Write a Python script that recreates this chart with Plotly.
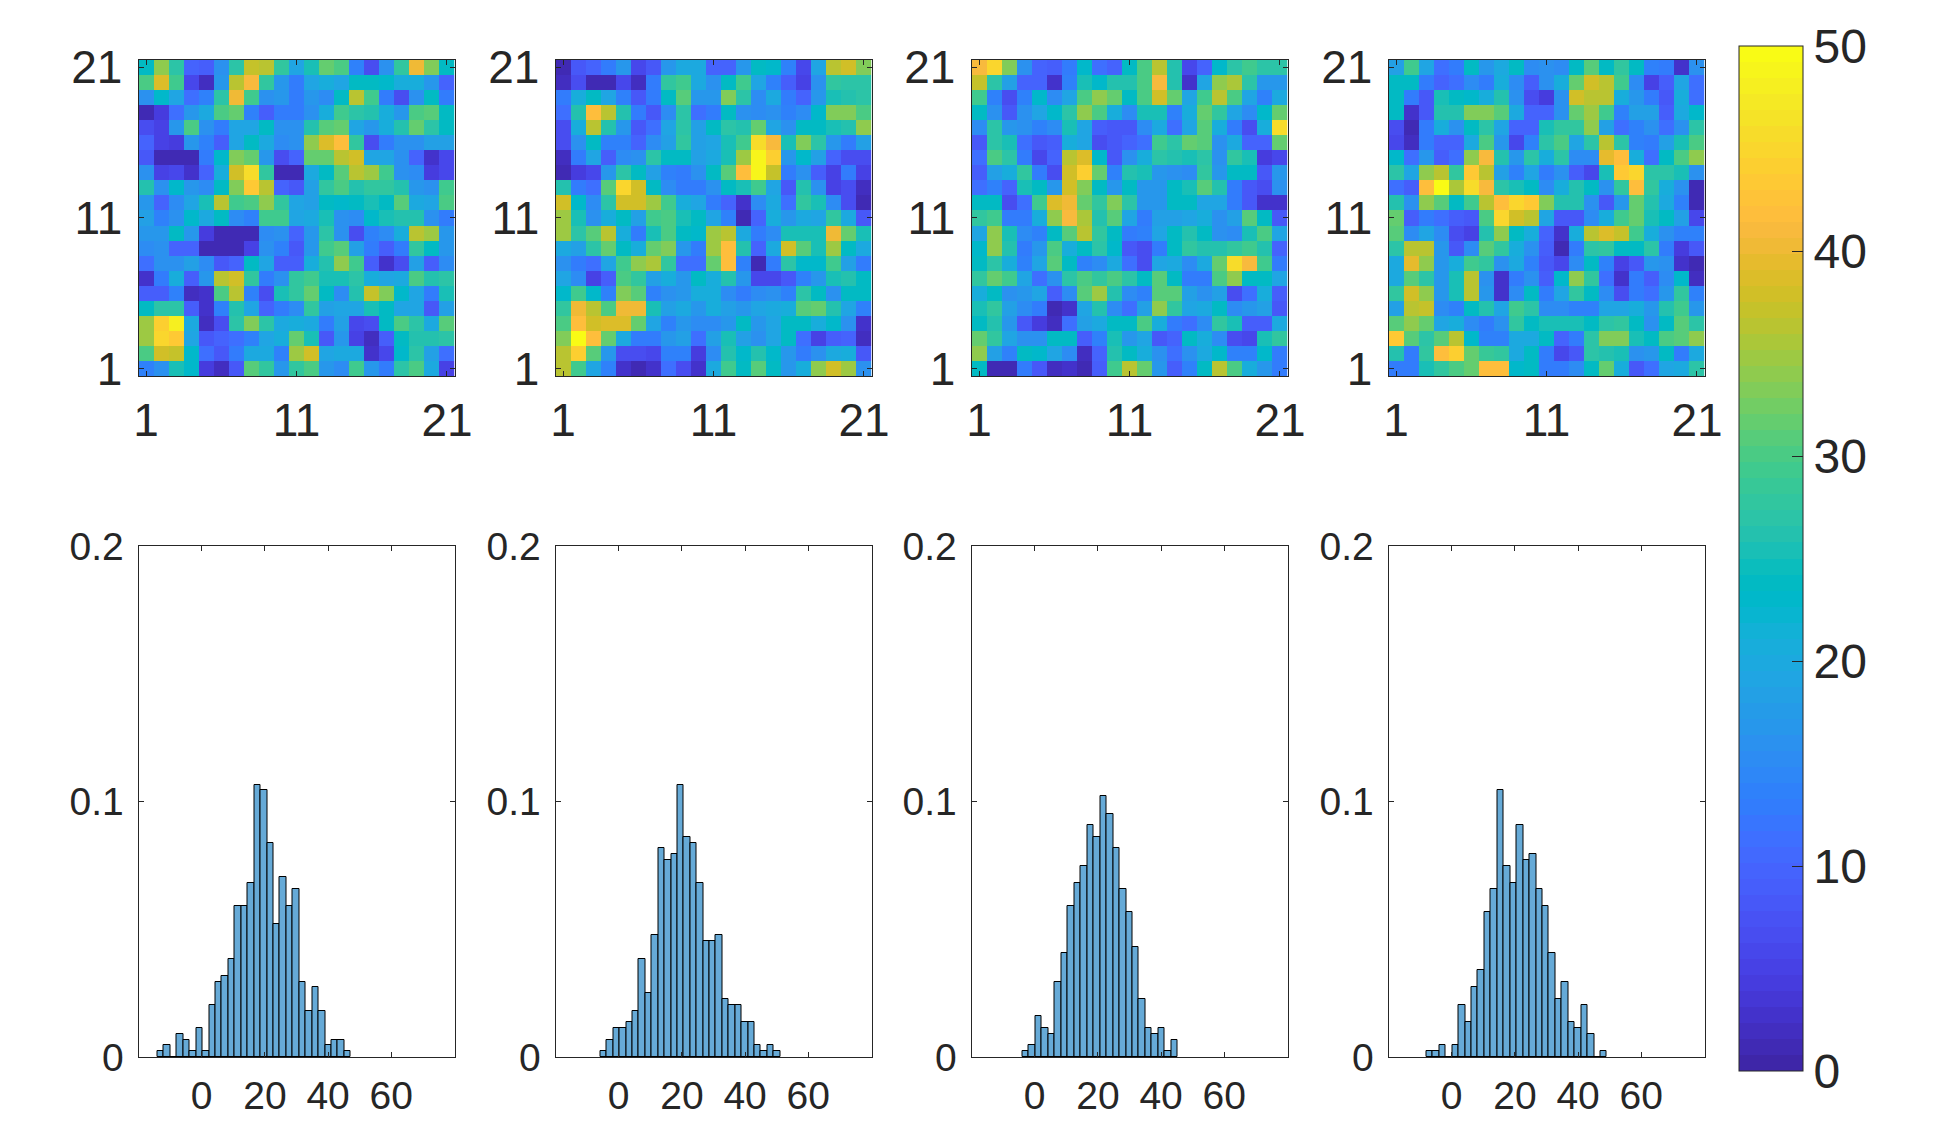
# -*- coding: utf-8 -*-
"""
Four 21x21 random fields (top row), their value histograms (bottom row),
one shared colour bar on the right.
"""

import numpy as np
import plotly.graph_objects as go

# -----------------------------
# Data, rows listed top (21) to bottom (1)
# -----------------------------
FIELD_A = [
    [24, 34, 27, 10, 9, 16, 27, 37, 36, 28, 19, 25, 32, 30, 14, 7, 16, 28, 40, 33, 24],
    [30, 39, 29, 6, 2, 17, 36, 41, 28, 17, 13, 19, 21, 19, 24, 24, 23, 21, 21, 17, 10],
    [16, 23, 19, 11, 14, 27, 40, 29, 16, 17, 13, 17, 15, 24, 36, 29, 13, 7, 16, 24, 13],
    [1, 4, 11, 17, 20, 30, 32, 14, 9, 13, 13, 16, 21, 29, 27, 26, 21, 17, 30, 31, 24],
    [7, 5, 17, 30, 16, 13, 19, 19, 24, 16, 16, 26, 31, 32, 19, 17, 21, 26, 32, 27, 24],
    [10, 5, 4, 17, 14, 9, 19, 24, 20, 15, 16, 34, 39, 42, 28, 7, 13, 16, 16, 18, 18],
    [8, 1, 1, 1, 13, 23, 33, 32, 17, 7, 10, 32, 32, 36, 38, 19, 19, 16, 10, 3, 6],
    [16, 5, 6, 3, 10, 21, 38, 46, 28, 1, 1, 20, 24, 31, 36, 35, 29, 16, 15, 4, 6],
    [26, 16, 23, 17, 15, 24, 33, 43, 36, 10, 8, 18, 28, 30, 26, 28, 28, 26, 17, 16, 29],
    [17, 10, 15, 19, 25, 36, 29, 30, 34, 28, 19, 18, 24, 23, 24, 25, 24, 31, 20, 19, 30],
    [18, 14, 16, 23, 20, 24, 15, 14, 29, 29, 19, 20, 25, 16, 15, 23, 25, 26, 26, 16, 13],
    [17, 17, 24, 17, 4, 1, 1, 1, 15, 16, 10, 17, 27, 16, 7, 14, 15, 21, 36, 35, 17],
    [15, 16, 10, 10, 1, 1, 1, 5, 16, 14, 8, 17, 29, 31, 18, 13, 9, 13, 28, 24, 17],
    [11, 16, 16, 18, 15, 8, 10, 24, 19, 9, 9, 21, 26, 34, 29, 9, 3, 7, 18, 9, 15],
    [3, 13, 21, 9, 17, 36, 38, 28, 13, 16, 28, 29, 25, 25, 27, 21, 19, 20, 30, 26, 27],
    [9, 9, 14, 2, 3, 30, 36, 14, 7, 25, 28, 32, 24, 15, 26, 37, 33, 23, 19, 13, 25],
    [24, 27, 27, 9, 3, 14, 26, 19, 10, 13, 15, 28, 18, 19, 19, 25, 24, 19, 19, 8, 18],
    [35, 44, 48, 20, 2, 7, 27, 33, 27, 20, 21, 20, 13, 18, 6, 7, 24, 30, 27, 20, 31],
    [35, 45, 43, 19, 8, 10, 11, 14, 19, 21, 32, 25, 8, 17, 5, 2, 9, 24, 26, 26, 27],
    [30, 38, 37, 23, 11, 8, 13, 20, 20, 14, 35, 38, 19, 20, 20, 3, 6, 23, 27, 18, 11],
    [14, 16, 25, 23, 4, 2, 8, 31, 28, 17, 28, 30, 17, 15, 29, 17, 13, 27, 30, 20, 5],
]
FIELD_B = [
    [1, 8, 10, 13, 17, 6, 8, 17, 20, 20, 10, 10, 17, 24, 23, 14, 6, 19, 36, 38, 33],
    [2, 7, 1, 1, 6, 2, 13, 28, 29, 20, 16, 24, 29, 19, 14, 9, 5, 16, 28, 27, 27],
    [13, 21, 24, 19, 14, 8, 13, 24, 31, 17, 17, 33, 27, 15, 20, 13, 10, 17, 25, 26, 27],
    [11, 26, 42, 36, 26, 13, 8, 15, 27, 11, 13, 24, 16, 15, 16, 14, 15, 23, 33, 33, 30],
    [7, 21, 36, 26, 17, 8, 11, 19, 27, 18, 24, 27, 26, 32, 19, 16, 24, 24, 25, 26, 34],
    [7, 16, 24, 14, 14, 10, 15, 18, 28, 18, 19, 25, 29, 46, 41, 25, 33, 27, 17, 13, 18],
    [2, 13, 19, 9, 15, 16, 27, 24, 24, 18, 20, 25, 35, 49, 44, 17, 23, 18, 10, 7, 7],
    [1, 4, 6, 17, 27, 24, 18, 14, 13, 16, 24, 31, 42, 49, 37, 13, 16, 9, 5, 13, 5],
    [26, 13, 11, 31, 45, 38, 24, 15, 13, 13, 16, 24, 25, 29, 19, 8, 26, 16, 5, 7, 2],
    [38, 23, 15, 27, 38, 38, 35, 29, 21, 19, 13, 10, 3, 15, 20, 11, 28, 25, 15, 7, 1],
    [35, 25, 16, 21, 24, 18, 29, 30, 25, 24, 19, 14, 1, 10, 21, 17, 20, 19, 28, 20, 8],
    [35, 27, 31, 36, 21, 13, 25, 30, 24, 23, 35, 36, 20, 13, 15, 25, 25, 25, 40, 32, 25],
    [20, 18, 27, 32, 24, 21, 32, 33, 17, 13, 35, 42, 26, 10, 20, 38, 31, 25, 35, 24, 20],
    [16, 13, 11, 19, 29, 34, 35.5, 28, 11, 11, 32, 42, 14, 1, 13, 27, 23, 23, 29, 18, 13],
    [19, 15, 5, 9, 30, 28, 18, 21, 17, 24, 21, 26, 17, 6, 6, 8, 14, 17, 25, 26, 24],
    [23, 29, 23, 14, 33, 31, 14, 16, 17, 21, 21, 15, 13, 15, 16, 14, 27, 24, 16, 24, 24],
    [28, 40, 36, 30, 40, 40, 25, 18, 20, 17, 21, 18, 17, 19, 20, 21, 31, 32, 26, 19, 14],
    [30, 42, 37.5, 38.5, 39, 32, 19, 14, 17, 15, 15, 17, 24, 17, 19, 24, 24, 21, 23, 16, 3],
    [33.5, 50, 42, 32, 20, 13, 13, 17, 18, 11, 18, 25, 18, 16, 19, 24, 11, 5, 9, 10, 2],
    [36.5, 44, 31, 17, 7, 7, 6, 14, 14, 4, 15, 26, 23, 26, 23, 17, 13, 16, 20, 21, 8],
    [36, 29, 19, 14, 3, 1, 3, 11, 7, 3, 20, 29, 24, 31, 24, 17, 21, 34, 37.5, 35, 16],
]
FIELD_C = [
    [41, 45, 33, 16, 10, 9, 13, 23, 11, 10, 24, 30, 36, 26, 6, 10, 23, 27, 29, 27, 27],
    [37, 27, 18, 10, 10, 3, 14, 25, 23, 26, 26, 30, 41, 26, 3, 19, 34, 35.5, 27, 17, 17],
    [29, 14, 7, 14, 23, 15, 19, 30, 34, 32, 24, 30, 38, 32, 19, 29, 36, 30, 19, 14, 20],
    [24, 16, 8, 16, 19, 23, 27, 34, 30, 21, 15, 25, 25, 14, 21, 32, 28, 19, 15, 23, 32],
    [15, 27, 17, 16, 14, 15, 25, 19, 9, 8, 8, 15, 20, 11, 19, 31, 21, 13, 7, 21, 46],
    [8, 27, 25, 11, 8, 9, 21, 19, 7, 8, 10, 11, 29, 27, 32, 31, 16, 20, 10, 10, 32],
    [11, 30, 27, 13, 6, 10, 36, 38.5, 23, 8, 16, 21, 27, 26, 25, 27, 16, 28, 25, 4, 6],
    [9, 18, 21, 28, 13, 7, 37.5, 44, 32, 14, 26, 25, 17, 16, 15, 28, 17, 24, 24, 8, 17],
    [11, 14, 10, 25, 24, 17, 38, 33, 24, 17, 24, 17, 17, 24, 25, 31, 26, 13, 8, 7, 16],
    [24, 24, 7, 11, 29, 38.5, 40, 32, 28, 33, 27, 17, 17, 24, 24, 19, 19, 13, 8, 3, 3],
    [28, 29, 13, 13, 21, 34, 41, 35.5, 26, 31, 19, 13, 18, 18, 19, 21, 16, 18, 31, 24, 8],
    [19, 34, 25, 15, 14, 24, 31, 36, 28, 24, 13, 14, 19, 24, 26, 24, 16, 15, 25, 30, 19],
    [23, 34, 26, 13, 17, 30, 21, 24, 27, 23, 8, 7, 13, 24, 28, 26, 26, 28, 29, 26, 10],
    [24, 27, 21, 14, 19, 31, 24, 14, 15, 20, 11, 7, 19, 20, 15, 20, 32, 46, 41, 29, 13],
    [28, 32, 29, 19, 11, 16, 27, 30, 28, 30, 27, 24, 31, 24, 13, 13, 30, 34, 24, 24, 19],
    [21, 24, 16, 17, 19, 9, 15, 31, 35, 26, 15, 14, 31, 31, 18, 16, 18, 7, 11, 21, 9],
    [25, 28, 18, 15, 13, 1, 3, 19, 26, 15, 11, 18, 34, 28, 19, 20, 24, 15, 17, 18, 8],
    [24, 26, 17, 8, 4, 2, 11, 18, 20, 24, 24, 30, 21, 13, 11, 15, 28, 25, 9, 9, 20],
    [32, 28, 19, 16, 16, 24, 24, 9, 14, 25, 17, 19, 8, 10, 24, 21, 15, 7, 6, 25, 28],
    [34, 18, 14, 24, 23, 19, 15, 2, 10, 26, 24, 21, 16, 11, 16, 20, 23, 14, 14, 23, 13],
    [24, 1, 1, 13, 8, 2, 3, 1, 9, 29, 36, 32, 17, 9, 14, 24, 36, 30, 21, 17, 13],
]
FIELD_D = [
    [18, 29, 19, 11, 13, 24, 17, 20, 24, 15, 16, 15, 24, 31, 24, 28, 24, 14, 13, 3, 16],
    [24, 24, 13, 10, 11, 15, 13, 21, 15, 9, 16, 21, 32, 37.5, 36, 29, 15, 5, 9, 19, 11],
    [24, 13, 8, 25, 24, 23, 21, 26, 16, 7, 4, 16, 38, 36.5, 36.5, 21, 17, 13, 8, 21, 11],
    [24, 3, 8, 26, 26, 33, 33, 31, 20, 10, 10, 16, 32, 35, 29, 14, 18, 18, 9, 20, 23],
    [7, 1, 13, 21, 16, 24, 27, 19, 10, 10, 25, 28, 28, 34, 18, 11, 14, 16, 11, 16, 27],
    [6, 2, 13, 10, 10, 20, 30, 17, 6, 14, 27, 30, 19, 27, 36, 27, 14, 13, 18, 25, 30],
    [23, 11, 17, 9, 11, 34, 41, 26, 17, 27, 21, 27, 15, 15, 39.5, 42, 21, 11, 24, 30, 34],
    [27, 19, 34, 36, 28, 43, 36, 18, 14, 19, 13, 16, 9, 6, 25, 43, 45, 27, 27, 25, 16],
    [11, 9, 42, 50, 35.5, 46, 41, 27, 25, 24, 15, 21, 26, 24, 16, 28, 42, 28, 21, 16, 1],
    [26, 16, 34, 31, 24, 29, 36.5, 42, 45, 43, 33, 26, 26, 16, 8, 17, 32, 26, 20, 14, 1],
    [32, 9, 13, 11, 9, 8, 30, 45, 38, 36, 19, 8, 8, 15, 21, 29, 32, 25, 24, 18, 6],
    [31, 15, 19, 15, 7, 5, 26, 34, 24, 21, 10, 3, 21, 36, 38.5, 37, 29, 21, 16, 14, 14],
    [27, 36, 36, 17, 8, 15, 31, 28, 21, 16, 9, 1, 13, 27, 28, 24, 24, 27, 13, 4, 8],
    [20, 39.5, 34, 17, 21, 29, 28, 16, 20, 14, 8, 6, 15, 24, 14, 5, 8, 17, 16, 3, 1],
    [20, 31, 27, 17, 25, 36, 16, 3, 13, 16, 9, 23, 34, 28, 11, 3, 13, 9, 15, 23, 2],
    [28, 38, 34, 17, 25, 36, 17, 3, 15, 24, 13, 19, 28, 24, 15, 7, 13, 11, 17, 28, 14],
    [18, 36, 37, 15, 14, 24, 26, 19, 29, 27, 15, 15, 14, 14, 19, 19, 21, 17, 26, 29, 17],
    [31, 34, 32, 19, 21, 15, 13, 16, 28, 24, 25, 25, 25, 24, 27, 28, 24, 16, 24, 31, 27],
    [43, 31, 27, 31, 36, 23, 14, 14, 20, 20, 24, 10, 13, 27, 33, 33, 25, 24, 30, 30.5, 34],
    [26, 13, 28, 42, 44, 32, 28.5, 28, 20, 24, 13, 6, 8, 27, 26, 25, 16, 17, 24, 13, 20],
    [13, 13, 25, 28, 30, 32, 42, 42, 23, 24, 13, 13, 15, 24, 32, 21, 8, 11, 19, 20, 27],
]

GRID_TICKS = [1, 11, 21]

# histogram counts per bin, out of 441 cells
HIST_A_FIRST_BIN, HIST_A_BIN_WIDTH = -14.0, 2.04
HIST_A = [1, 2, 0, 4, 3, 1, 5, 1, 9, 13, 14, 17, 26, 26, 30, 47, 46, 37, 23, 31, 26, 29, 13, 8, 12, 8, 2, 3, 3, 1]
HIST_B_FIRST_BIN, HIST_B_BIN_WIDTH = -5.77, 2.03
HIST_B = [1, 3, 5, 5, 6, 8, 17, 11, 21, 36, 34, 35, 47, 38, 37, 30, 20, 20, 21, 10, 9, 9, 6, 6, 2, 1, 2, 1]
HIST_C_FIRST_BIN, HIST_C_BIN_WIDTH = -3.9, 2.05
HIST_C = [1, 2, 7, 5, 4, 13, 18, 26, 30, 33, 40, 38, 45, 42, 36, 29, 25, 19, 10, 5, 4, 5, 1, 3]
HIST_D_FIRST_BIN, HIST_D_BIN_WIDTH = -8.0, 2.04
HIST_D = [1, 1, 2, 0, 2, 9, 6, 12, 15, 25, 29, 46, 33, 30, 40, 34, 35, 29, 26, 18, 10, 13, 6, 5, 9, 4, 0, 1]

HIST_XTICKS = [0, 20, 40, 60]
HIST_YTICKS = [0, 0.1, 0.2]
HIST_YLABELS = ["0", "0.1", "0.2"]
BAR_TICKS = [0, 10, 20, 30, 40, 50]

# parula, 64 levels
PARULA = [
    (0.2422, 0.1504, 0.6603), (0.2504, 0.1650, 0.7076), (0.2578, 0.1818, 0.7511), (0.2647, 0.1978, 0.7952),
    (0.2706, 0.2147, 0.8364), (0.2751, 0.2342, 0.8710), (0.2783, 0.2559, 0.8991), (0.2803, 0.2782, 0.9221),
    (0.2813, 0.3006, 0.9414), (0.2810, 0.3228, 0.9579), (0.2795, 0.3447, 0.9717), (0.2760, 0.3667, 0.9829),
    (0.2699, 0.3892, 0.9906), (0.2602, 0.4123, 0.9952), (0.2440, 0.4358, 0.9988), (0.2206, 0.4603, 0.9973),
    (0.1963, 0.4847, 0.9892), (0.1834, 0.5074, 0.9798), (0.1786, 0.5289, 0.9682), (0.1764, 0.5499, 0.9520),
    (0.1687, 0.5703, 0.9359), (0.1540, 0.5902, 0.9218), (0.1460, 0.6091, 0.9079), (0.1380, 0.6276, 0.8973),
    (0.1248, 0.6459, 0.8883), (0.1113, 0.6635, 0.8763), (0.0952, 0.6798, 0.8598), (0.0689, 0.6948, 0.8394),
    (0.0297, 0.7082, 0.8163), (0.0036, 0.7203, 0.7917), (0.0067, 0.7312, 0.7660), (0.0433, 0.7411, 0.7394),
    (0.0964, 0.7500, 0.7120), (0.1408, 0.7584, 0.6842), (0.1717, 0.7670, 0.6554), (0.1938, 0.7758, 0.6251),
    (0.2161, 0.7843, 0.5923), (0.2470, 0.7918, 0.5567), (0.2906, 0.7973, 0.5188), (0.3406, 0.8008, 0.4789),
    (0.3909, 0.8029, 0.4354), (0.4456, 0.8024, 0.3909), (0.5044, 0.7993, 0.3480), (0.5616, 0.7942, 0.3045),
    (0.6174, 0.7876, 0.2612), (0.6720, 0.7793, 0.2227), (0.7242, 0.7698, 0.1910), (0.7738, 0.7598, 0.1646),
    (0.8203, 0.7498, 0.1535), (0.8634, 0.7406, 0.1596), (0.9035, 0.7330, 0.1774), (0.9393, 0.7288, 0.2100),
    (0.9728, 0.7298, 0.2394), (0.9956, 0.7434, 0.2371), (0.9970, 0.7659, 0.2199), (0.9952, 0.7893, 0.2028),
    (0.9892, 0.8136, 0.1885), (0.9786, 0.8386, 0.1766), (0.9676, 0.8639, 0.1643), (0.9610, 0.8890, 0.1537),
    (0.9597, 0.9135, 0.1423), (0.9628, 0.9373, 0.1265), (0.9691, 0.9606, 0.1064), (0.9769, 0.9839, 0.0805),
]

# -----------------------------
# Layout helpers (pixel positions in the page)
# -----------------------------
PAGE_W, PAGE_H = 1937, 1125
OFFSET = 8  # default body margin of the written page

PANEL_LEFT = [138.5, 555.5, 971.5, 1388.5]
PANEL_WIDTH = 316
HEAT_TOP, HEAT_BOTTOM = 59.5, 376
HIST_TOP, HIST_BOTTOM = 546, 1057
BAR_LEFT, BAR_TOP, BAR_BOTTOM = 1739, 46, 1071


def x_frac(px):
    return (px - OFFSET) / PAGE_W


def y_frac(px):
    return 1 - (px - OFFSET) / PAGE_H


INK = "#262626"
FONT = "Liberation Sans"

colorscale = []
for i, rgb in enumerate(PARULA):
    css = "rgb(%d,%d,%d)" % tuple(round(c * 255) for c in rgb)
    colorscale.append([i / 64, css])
    colorscale.append([(i + 1) / 64, css])

fields = [FIELD_A, FIELD_B, FIELD_C, FIELD_D]
hists = [
    (HIST_A_FIRST_BIN, HIST_A_BIN_WIDTH, HIST_A),
    (HIST_B_FIRST_BIN, HIST_B_BIN_WIDTH, HIST_B),
    (HIST_C_FIRST_BIN, HIST_C_BIN_WIDTH, HIST_C),
    (HIST_D_FIRST_BIN, HIST_D_BIN_WIDTH, HIST_D),
]

fig = go.Figure()
axes = {}

for k, left in enumerate(PANEL_LEFT):
    domain_x = [x_frac(left), x_frac(left + PANEL_WIDTH)]
    common = dict(
        domain=domain_x,
        showgrid=False,
        zeroline=False,
        showline=True,
        mirror="ticks",
        linecolor=INK,
        linewidth=1,
        ticks="inside",
        tickcolor=INK,
        tickwidth=1,
        ticklen=5,
    )

    # -----------------------------
    # Field image
    # -----------------------------
    top_id = 2 * k + 1
    fig.add_trace(go.Heatmap(
        z=np.array(fields[k], dtype=float),
        x=list(range(1, 22)),
        y=list(range(21, 0, -1)),
        coloraxis="coloraxis",
        xaxis=f"x{top_id}",
        yaxis=f"y{top_id}",
    ))
    axes[f"xaxis{top_id}"] = dict(
        common,
        anchor=f"y{top_id}",
        range=[0.5, 21.5],
        tickvals=GRID_TICKS,
        tickfont=dict(size=46, family=FONT, color=INK),
        ticklabelstandoff=4,
    )
    axes[f"yaxis{top_id}"] = dict(
        common,
        domain=[y_frac(HEAT_BOTTOM), y_frac(HEAT_TOP)],
        anchor=f"x{top_id}",
        range=[0.5, 21.5],
        tickvals=GRID_TICKS,
        tickfont=dict(size=46, family=FONT, color=INK),
        ticklabelstandoff=6,
    )

    # -----------------------------
    # Histogram of the same field
    # -----------------------------
    low_id = 2 * k + 2
    first_bin, bin_width, counts = hists[k]
    fig.add_trace(go.Bar(
        x=[first_bin + bin_width * i for i in range(len(counts))],
        y=[c / 441 for c in counts],
        width=bin_width,
        offset=0,
        marker=dict(color="#66AAD7", line=dict(color="black", width=1)),
        xaxis=f"x{low_id}",
        yaxis=f"y{low_id}",
    ))
    axes[f"xaxis{low_id}"] = dict(
        common,
        anchor=f"y{low_id}",
        range=[-20, 80],
        tickvals=HIST_XTICKS,
        tickfont=dict(size=39, family=FONT, color=INK),
        ticklabelstandoff=4,
    )
    axes[f"yaxis{low_id}"] = dict(
        common,
        domain=[y_frac(HIST_BOTTOM), y_frac(HIST_TOP)],
        anchor=f"x{low_id}",
        range=[0, 0.2],
        tickvals=HIST_YTICKS,
        ticktext=HIST_YLABELS,
        tickfont=dict(size=39, family=FONT, color=INK),
        ticklabelstandoff=6,
    )

fig.update_layout(
    **axes,
    width=PAGE_W,
    height=PAGE_H,
    margin=dict(l=0, r=0, t=0, b=0, autoexpand=False),
    paper_bgcolor="white",
    plot_bgcolor="white",
    showlegend=False,
    bargap=0,
    coloraxis=dict(
        colorscale=colorscale,
        cmin=0,
        cmax=50,
        colorbar=dict(
            x=x_frac(BAR_LEFT),
            xanchor="left",
            xpad=0,
            y=y_frac(BAR_TOP),
            yanchor="top",
            ypad=0,
            thicknessmode="pixels",
            thickness=64,
            lenmode="pixels",
            len=BAR_BOTTOM - BAR_TOP,
            outlinecolor=INK,
            outlinewidth=1,
            ticks="inside",
            ticklen=11,
            tickwidth=1,
            tickcolor=INK,
            tickvals=BAR_TICKS,
            tickprefix="\u200a\u200a\u200a",
            tickfont=dict(size=48, family=FONT, color=INK),
        ),
    ),
)

fig.write_html("out.html")
